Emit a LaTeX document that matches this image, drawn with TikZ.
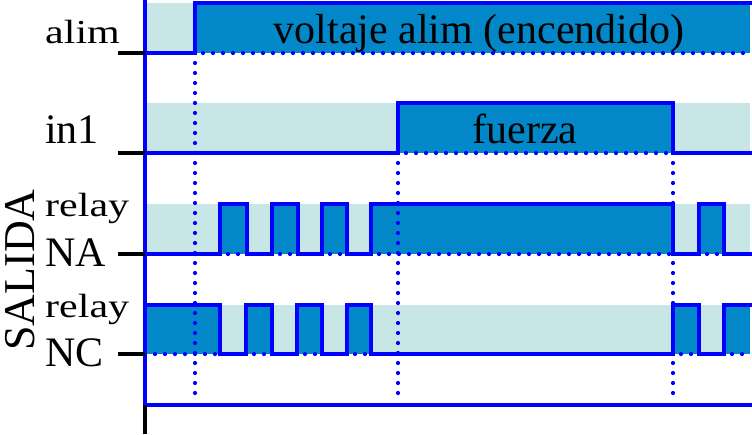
\documentclass[tikz,border=0pt]{standalone}
\usepackage{fontspec}
\usepackage{graphicx}
\setmainfont{Liberation Serif}
\definecolor{sigblue}{RGB}{0,0,255}
\definecolor{darkfill}{RGB}{2,136,200}
\definecolor{lightband}{RGB}{200,230,230}
\begin{document}
\begin{tikzpicture}[x=1pt,y=-1pt,
  sig/.style={draw=sigblue, line width=4.5pt, line join=miter},
  dotln/.style={draw=sigblue, line width=4.2pt, line cap=round, dash pattern=on 0pt off 10pt},
  tickln/.style={draw=black, line width=4.5pt},
  band/.style={fill=lightband},
  hi/.style={fill=darkfill},
  lbl/.style={font=\fontsize{42}{42}\selectfont, inner sep=0pt, anchor=base west},
  ctr/.style={font=\fontsize{42}{42}\selectfont, inner sep=0pt, anchor=base},
]
\useasboundingbox (0,0) rectangle (752,434);
% bands
\fill[band] (147,3) rectangle (750,53);
\fill[band] (147,103) rectangle (750,153);
\fill[band] (147,204) rectangle (750,254);
\fill[band] (147,305) rectangle (750,354);
% high fills
\fill[hi] (195,3) rectangle (750,53);
\fill[hi] (398,103) rectangle (673,153);
\foreach \a/\b in {220/247,272/298,322/347,371/673,699/724}
  \fill[hi] (\a,204) rectangle (\b,254);
\foreach \a/\b in {147/220,246/272,297/322,347/371,673/699,724/750}
  \fill[hi] (\a,305) rectangle (\b,354);
% dotted lines under high levels
\draw[dotln] (203,53) -- (752,53);
\draw[dotln] (406,153) -- (673,153);
\foreach \a/\b in {220/247,272/298,322/347,371/673,699/724}
  \draw[dotln] (\a+8,254) -- (\b,254);
\foreach \a/\b in {147/220,246/272,297/322,347/371,673/699,724/750}
  \draw[dotln] (\a+8,354) -- (\b,354);
% vertical dotted markers
\coordinate (m1t) at (195,63);  \coordinate (m1b) at (195,397);
\coordinate (m2t) at (398,163); \coordinate (m2b) at (398,397);
\coordinate (m3t) at (673,163); \coordinate (m3b) at (673,397);
\draw[dotln] (m1t) -- (m1b);
\draw[dotln] (m2t) -- (m2b);
\draw[dotln] (m3t) -- (m3b);
% signals
\draw[sig] (145,53) -- (195,53) -- (195,3) -- (752,3);
\draw[sig] (145,153) -- (398,153) -- (398,103) -- (673,103) -- (673,153) -- (752,153);
\draw[sig] (145,254) -- (220,254) -- (220,204) -- (247,204) -- (247,254)
  -- (272,254) -- (272,204) -- (298,204) -- (298,254)
  -- (322,254) -- (322,204) -- (347,204) -- (347,254)
  -- (371,254) -- (371,204) -- (673,204) -- (673,254)
  -- (699,254) -- (699,204) -- (724,204) -- (724,254) -- (752,254);
\draw[sig] (145,305) -- (220,305) -- (220,354) -- (246,354) -- (246,305)
  -- (272,305) -- (272,354) -- (297,354) -- (297,305)
  -- (322,305) -- (322,354) -- (347,354) -- (347,305)
  -- (371,305) -- (371,354) -- (673,354) -- (673,305)
  -- (699,305) -- (699,354) -- (724,354) -- (724,305) -- (752,305);
% axes
\coordinate (axtop) at (145,0);
\coordinate (axbot) at (145,405);
\coordinate (axend) at (145,434);
\coordinate (axright) at (752,405);
\draw[sig] (axtop) -- (axbot);
\draw[sig] (axbot) -- (axright);
\draw[tickln] (axbot) -- (axend);
\foreach \y in {53,153,254,354}
  \draw[tickln] (118,\y) -- (145,\y);
% labels
\node[lbl] (lalim) at (45,43) {\scalebox{1}[0.8]{alim}};
\node[lbl] (lin1) at (45,143) {in1};
\node[lbl] (lrelay1) at (45,216) {\scalebox{1}[0.8]{relay}};
\node[lbl] (lna) at (45,266) {NA};
\node[lbl] (lrelay2) at (45,317) {\scalebox{1}[0.8]{relay}};
\node[lbl] (lnc) at (45,366) {NC};
\node[font=\fontsize{44}{44}\selectfont, inner sep=0pt, anchor=base, rotate=90] (lsal) at (34,270) {SALIDA};
\node[ctr] (lvolt) at (479,43) {voltaje alim (encendido)};
\node[ctr] (lfuer) at (525,143) {fuerza};
\end{tikzpicture}
\end{document}
